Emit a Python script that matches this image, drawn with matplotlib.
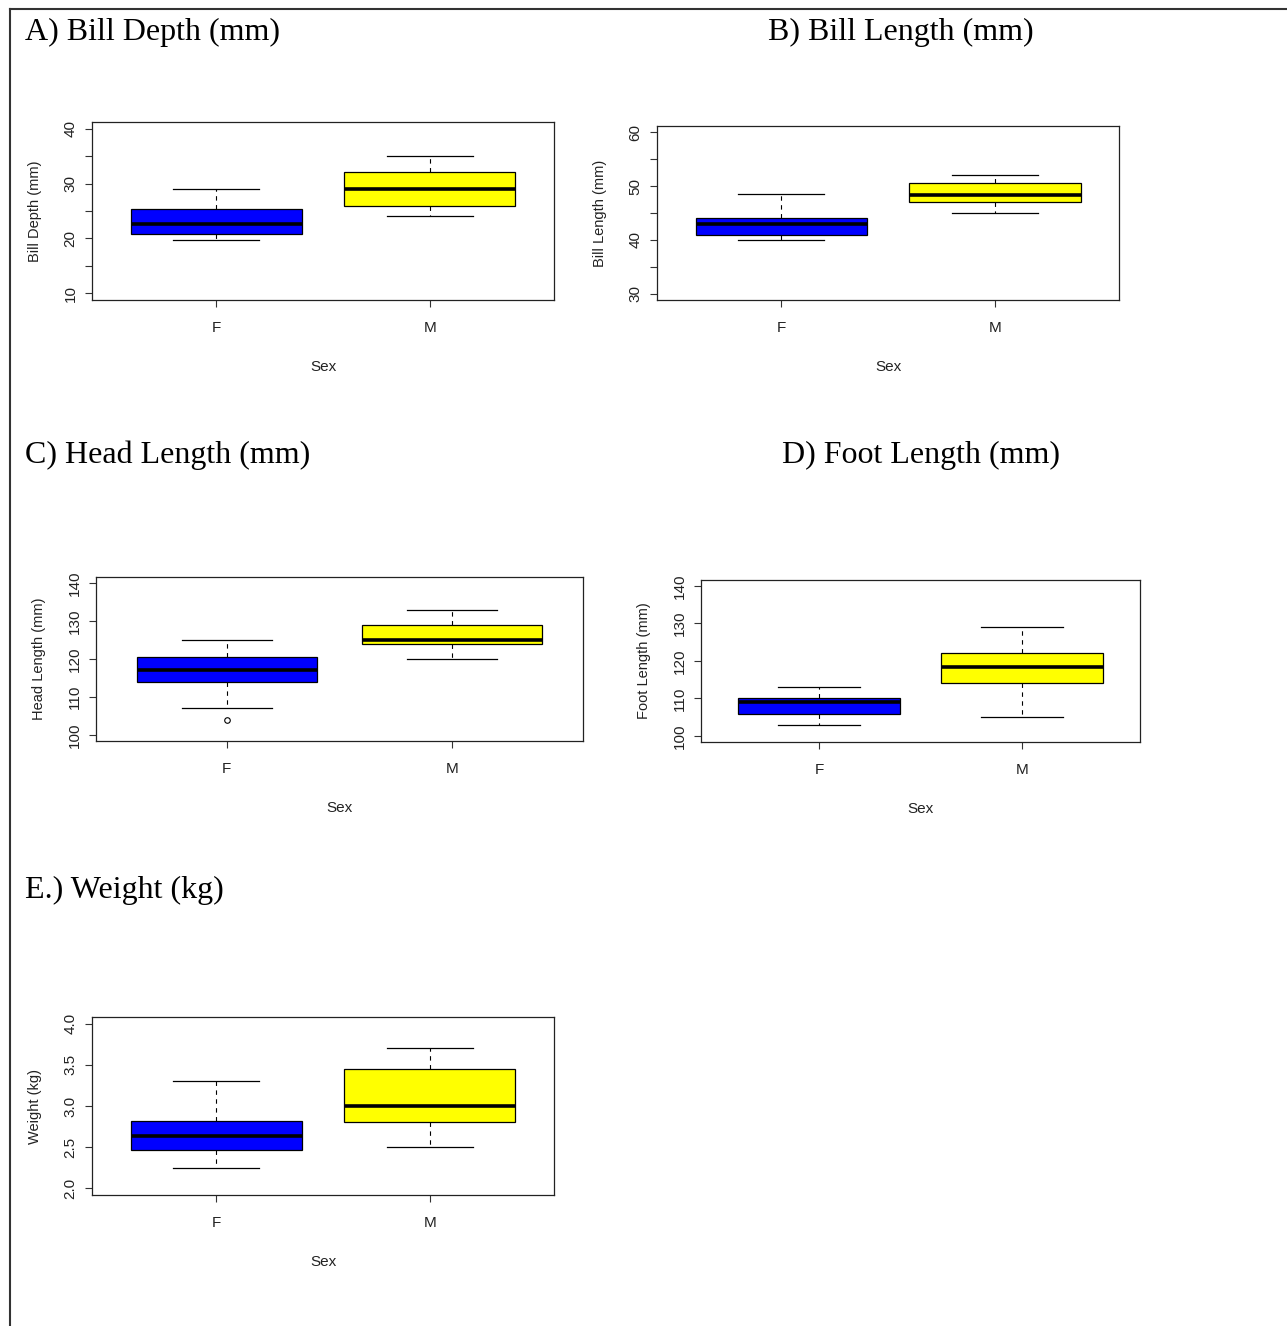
import matplotlib
matplotlib.use('Agg')
import matplotlib.pyplot as plt
from matplotlib.lines import Line2D

# five-number summaries: [low whisker, Q1, median, Q3, high whisker]
sex = ['F', 'M']
bill_depth_F = [19.7, 20.9, 22.7, 25.3, 29.0]
bill_depth_M = [24.0, 25.9, 29.0, 32.1, 35.0]
bill_length_F = [40.0, 40.9, 43.0, 44.0, 48.5]
bill_length_M = [45.0, 47.1, 48.3, 50.5, 52.1]
head_length_F = [107.0, 114.0, 117.0, 120.6, 125.0]
head_length_M = [120.0, 124.0, 125.0, 129.0, 133.0]
head_length_F_out = [104.0]
foot_length_F = [103.0, 105.8, 109.0, 110.0, 113.0]
foot_length_M = [105.0, 114.0, 118.4, 122.0, 129.0]
weight_F = [2.25, 2.47, 2.64, 2.82, 3.30]
weight_M = [2.50, 2.80, 3.00, 3.45, 3.70]

W, H = 1287, 1326
fig = plt.figure(figsize=(W / 100, H / 100), dpi=100)

INK = '#222222'
SANS = 'Liberation Sans'
SERIF = 'Liberation Serif'


def panel(box, ticks, labels, ylabel, s_f, s_m, out_f=()):
    l, t, r, b = box
    w, h = r - l, b - t
    ax = fig.add_axes([l / W, 1 - b / H, w / W, h / H])
    stats = []
    for s, fl in ((s_f, out_f), (s_m, ())):
        stats.append(dict(whislo=s[0], q1=s[1], med=s[2], q3=s[3],
                          whishi=s[4], fliers=list(fl)))
    art = ax.bxp(stats, positions=[1, 2], widths=0.8, patch_artist=True,
                 boxprops=dict(edgecolor='black', linewidth=0.9),
                 medianprops=dict(color='black', linewidth=2.6),
                 whiskerprops=dict(color='black', linewidth=0.8,
                                   linestyle=(0, (4, 4))),
                 capprops=dict(color='black', linewidth=0.9),
                 flierprops=dict(marker='o', markerfacecolor='none',
                                 markeredgecolor='black', markersize=4,
                                 markeredgewidth=0.8))
    for patch, c in zip(art['boxes'], ['#0000ff', '#ffff00']):
        patch.set_facecolor(c)

    lo, hi = ticks[0], ticks[-1]
    ext = 0.04 * (hi - lo)
    ax.set_ylim(lo - ext, hi + ext)
    ax.set_xlim(0.42, 2.58)
    ax.set_yticks(ticks)
    ax.set_yticklabels(labels, rotation=90, va='center',
                       fontfamily=SANS, fontsize=11, color=INK)
    ax.set_xticks([1, 2])
    ax.set_xticklabels(sex, fontfamily=SANS, fontsize=11, color=INK)
    ax.tick_params(axis='y', direction='out', length=5, width=0.8,
                   color='#333333', pad=5.5)
    ax.tick_params(axis='x', direction='out', length=5, width=0.8,
                   color='#333333', pad=10)
    for sp in ax.spines.values():
        sp.set_color('#222222')
        sp.set_linewidth(0.9)

    ax.set_xlabel('Sex', fontfamily=SANS, fontsize=11, color=INK, va='center')
    ax.xaxis.set_label_coords(0.5, -67 / h)
    ax.set_ylabel(ylabel, fontfamily=SANS, fontsize=10.5, color=INK,
                  va='center')
    ax.yaxis.set_label_coords(-57 / w, 0.5)
    return ax


def title(x, y, txt):
    fig.text(x / W, 1 - y / H, txt, fontfamily=SERIF, fontsize=23,
             ha='left', va='baseline', color='black')


panel((92, 122, 554, 300), [10, 15, 20, 25, 30, 35, 40],
      ['10', '', '20', '', '30', '', '40'], 'Bill Depth (mm)',
      bill_depth_F, bill_depth_M)
panel((657, 126, 1119, 300), [30, 35, 40, 45, 50, 55, 60],
      ['30', '', '40', '', '50', '', '60'], 'Bill Length (mm)',
      bill_length_F, bill_length_M)
panel((96, 577, 583, 741), [100, 110, 120, 130, 140],
      ['100', '110', '120', '130', '140'], 'Head Length (mm)',
      head_length_F, head_length_M, head_length_F_out)
panel((701, 580, 1140, 742), [100, 110, 120, 130, 140],
      ['100', '110', '120', '130', '140'], 'Foot Length (mm)',
      foot_length_F, foot_length_M)
panel((92, 1017, 554, 1195), [2.0, 2.5, 3.0, 3.5, 4.0],
      ['2.0', '2.5', '3.0', '3.5', '4.0'], 'Weight (kg)',
      weight_F, weight_M)

title(25, 40, 'A) Bill Depth (mm)')
title(768, 40, 'B) Bill Length (mm)')
title(25, 463, 'C) Head Length (mm)')
title(782, 463, 'D) Foot Length (mm)')
title(25, 898, 'E.) Weight (kg)')

# page frame lines (top and left)
fig.add_artist(Line2D([10 / W, 1], [1 - 9 / H, 1 - 9 / H],
                      transform=fig.transFigure, color='#333333', lw=1.5))
fig.add_artist(Line2D([10 / W, 10 / W], [0, 1 - 9 / H],
                      transform=fig.transFigure, color='#333333', lw=1.5))

fig.savefig('out.png', dpi=100)
